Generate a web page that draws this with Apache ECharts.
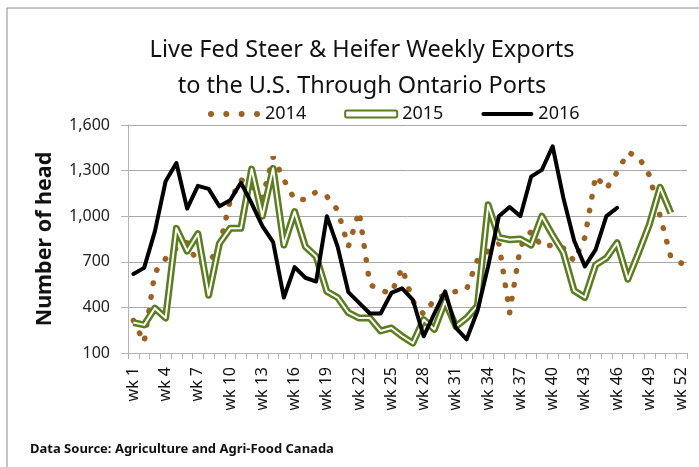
<!DOCTYPE html>
<html>
<head>
<meta charset="utf-8">
<script src="https://cdn.jsdelivr.net/npm/echarts@6/dist/echarts.min.js"></script>
<style>
  html, body { margin: 0; padding: 0; background: #fff; }
  #chart { width: 699px; height: 467px; }
</style>
</head>
<body>
<div id="chart"></div>
<script>
  const weeks = [
    'wk 1', 'wk 2', 'wk 3', 'wk 4', 'wk 5', 'wk 6', 'wk 7', 'wk 8', 'wk 9', 'wk 10',
    'wk 11', 'wk 12', 'wk 13', 'wk 14', 'wk 15', 'wk 16', 'wk 17', 'wk 18', 'wk 19', 'wk 20',
    'wk 21', 'wk 22', 'wk 23', 'wk 24', 'wk 25', 'wk 26', 'wk 27', 'wk 28', 'wk 29', 'wk 30',
    'wk 31', 'wk 32', 'wk 33', 'wk 34', 'wk 35', 'wk 36', 'wk 37', 'wk 38', 'wk 39', 'wk 40',
    'wk 41', 'wk 42', 'wk 43', 'wk 44', 'wk 45', 'wk 46', 'wk 47', 'wk 48', 'wk 49', 'wk 50',
    'wk 51', 'wk 52'
  ]

  const exports2014 = [
    314, 170, 630, 720, 790, 830, 690, 690, 800, 1100,
    1240, 1200, 1120, 1390, 1240, 1110, 1110, 1160, 1130, 1040,
    800, 1030, 550, 510, 495, 660, 440, 355, 450, 485,
    505, 520, 710, 770, 820, 365, 800, 900, 800, 810,
    790, 705, 860, 1265, 1180, 1290, 1420, 1390, 1270, 1000,
    730, 690
  ]

  const exports2015 = [
    300, 285, 395, 330, 920, 770, 885, 480, 820, 920,
    920, 1310, 1000, 1315, 810, 1030, 800, 735, 505, 465,
    365, 330, 330, 245, 265, 210, 165, 320, 255, 440,
    275, 330, 410, 1075, 860, 845, 850, 810, 1000, 875,
    760, 510, 465, 680, 725, 825, 585, 760, 945, 1190,
    1020
  ]

  const exports2016 = [
    620, 660, 900, 1230, 1350, 1050, 1200, 1180, 1065, 1105,
    1220, 1085, 935, 830, 465, 665, 595, 570, 1000, 800,
    500, 430, 360, 360, 495, 525, 450, 210, 360, 505,
    265, 190, 375, 670, 1000, 1060, 1000, 1260, 1305, 1460,
    1120, 840, 670, 780, 1000, 1055
  ]

  const yMin = 100
  const yMax = 1600
  const yStep = 300

  const brown = '#9a6224'
  const olive = '#5b7d1f'
  const font = 'Noto Sans'

  // legend icons: four round dots / a thick bar
  const dotsIcon = 'path://M0,3a3,3 0 1,0 6,0a3,3 0 1,0 -6,0Z' +
    'M15.3,3a3,3 0 1,0 6,0a3,3 0 1,0 -6,0Z' +
    'M30.6,3a3,3 0 1,0 6,0a3,3 0 1,0 -6,0Z' +
    'M46,3a3,3 0 1,0 6,0a3,3 0 1,0 -6,0Z'
  const barIcon = 'path://M2,0L50,0A2,2 0 0,1 50,4L2,4A2,2 0 0,1 2,0Z'

  const chart = echarts.init(document.getElementById('chart'))

  chart.setOption({
    animation: false,
    textStyle: { fontFamily: font },
    title: {
      text: 'Live Fed Steer & Heifer Weekly Exports\nto the U.S. Through Ontario Ports',
      left: 357,
      textAlign: 'center',
      top: 27,
      textStyle: {
        fontFamily: font,
        fontSize: 23.5,
        fontWeight: 'normal',
        color: '#111',
        lineHeight: 36
      }
    },
    legend: {
      left: 203,
      top: 100,
      itemWidth: 52,
      itemHeight: 7,
      itemGap: 38,
      textStyle: { fontSize: 18, color: '#111', fontFamily: font },
      data: [
        { name: '2014', icon: dotsIcon, itemStyle: { color: brown } },
        {
          name: '2015',
          icon: 'roundRect',
          itemStyle: { color: '#fff', borderColor: olive, borderWidth: 2 }
        },
        { name: '2016', icon: barIcon, itemStyle: { color: '#000' } }
      ]
    },
    grid: {
      left: 128,
      right: 12,
      top: 125,
      bottom: 114,
      containLabel: false
    },
    xAxis: {
      type: 'category',
      data: weeks,
      boundaryGap: true,
      axisLine: { lineStyle: { color: '#b3b3b3', width: 1 } },
      axisTick: {
        show: true,
        interval: 0,
        length: 6,
        lineStyle: { color: '#b3b3b3' }
      },
      axisLabel: {
        interval: 2,
        rotate: 90,
        margin: 14,
        fontSize: 16,
        color: '#111'
      },
      splitLine: { show: false }
    },
    yAxis: {
      type: 'value',
      min: yMin,
      max: yMax,
      interval: yStep,
      name: 'Number of head',
      nameLocation: 'middle',
      nameRotate: 90,
      nameGap: 72,
      nameTextStyle: { fontSize: 21.5, fontWeight: 'bold', color: '#111' },
      axisLine: { show: true, lineStyle: { color: '#b3b3b3' } },
      axisTick: { show: true, length: 7, lineStyle: { color: '#b3b3b3' } },
      axisLabel: {
        margin: 18,
        fontSize: 16,
        color: '#222',
        formatter: v => v.toLocaleString('en-US')
      },
      splitLine: { lineStyle: { color: '#a9a9a9', width: 1 } }
    },
    series: [
      {
        name: '2014',
        type: 'line',
        data: exports2014,
        symbol: 'none',
        lineStyle: {
          color: brown,
          width: 5.5,
          type: [0.5, 13.5],
          cap: 'round'
        },
        itemStyle: { color: brown }
      },
      {
        name: '2015',
        type: 'line',
        data: exports2015,
        symbol: 'none',
        lineStyle: { color: olive, width: 7, join: 'round' },
        itemStyle: { color: olive }
      },
      {
        name: '2015',
        type: 'line',
        data: exports2015,
        symbol: 'none',
        lineStyle: { color: '#fff', width: 2, join: 'round' }
      },
      {
        name: '2016',
        type: 'line',
        data: exports2016,
        symbol: 'none',
        lineStyle: { color: '#000', width: 4, join: 'round', cap: 'round' },
        itemStyle: { color: '#000' }
      }
    ],
    graphic: [
      {
        type: 'line',
        shape: { x1: 7, y1: 8, x2: 699, y2: 8 },
        style: { stroke: '#8c8c8c', lineWidth: 1 }
      },
      {
        type: 'line',
        shape: { x1: 7, y1: 8, x2: 7, y2: 467 },
        style: { stroke: '#8c8c8c', lineWidth: 1 }
      },
      {
        type: 'text',
        left: 30,
        top: 443,
        style: {
          text: 'Data Source: Agriculture and Agri-Food Canada',
          fontFamily: font,
          fontSize: 13,
          fontWeight: 'bold',
          fill: '#111'
        }
      }
    ]
  })
</script>
</body>
</html>
